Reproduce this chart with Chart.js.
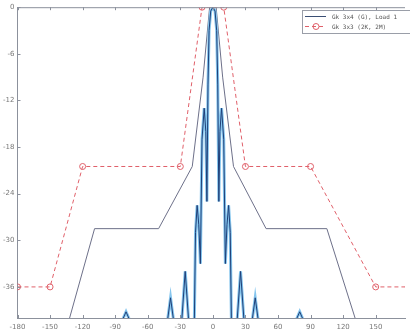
<!DOCTYPE html>
<html>
<head>
<meta charset="utf-8">
<script src="https://cdn.jsdelivr.net/npm/chart.js@4"></script>
<style>
  html, body { margin: 0; padding: 0; background: #fff; }
  #wrap { width: 410px; height: 334px; }
  canvas { filter: blur(0.5px); }
</style>
</head>
<body>
<div id="wrap"><canvas id="chart"></canvas></div>
<script>
// Beam pattern (deg, dB); deep nulls fall below the -40 dB floor
const patternAngles = [-180,
  -83, -82.5, -80, -77.5, -77,
  -42, -41.5, -39, -36.5, -36,
  -29, -28.5, -25.5, -22.5, -22,
  -17.5, -16, -14.5, -13, -11.5, -10, -8, -6.5, -5.5, -4.5, -3.5, -2,
  0,
  2, 3.5, 4.5, 5.5, 6.5, 8, 10, 11.5, 13, 14.5, 16, 17.5,
  22, 22.5, 25.5, 28.5, 29,
  36, 36.5, 39, 41.5, 42,
  77, 77.5, 80, 82.5, 83,
  180];
const patternGain = [-45,
  -45, -40, -39.2, -40, -45,
  -45, -40, -37.4, -40, -45,
  -45, -40, -34, -40, -45,
  -45, -29, -25.5, -28, -33, -17, -13, -16, -25, -10, -3, -0.5,
  0,
  -0.5, -3, -10, -25, -16, -13, -17, -33, -28, -25.5, -29, -45,
  -45, -40, -34, -40, -45,
  -45, -40, -37.4, -40, -45,
  -45, -40, -39.2, -40, -45,
  -45];

// Solid envelope
const maskAngles = [-132, -109, -50, -19, -9, -3, 3, 9, 19, 49, 105, 131];
const maskGain = [-40, -28.5, -28.5, -20.5, -9, 0, 0, -9, -20.5, -28.5, -28.5, -40];

// Dashed mask with circles
const limitAngles = [-180, -150, -120, -30, -10, 10, 30, 90, 150, 180];
const limitGain = [-36, -36, -20.5, -20.5, 0, 0, -20.5, -20.5, -36, -36];

const xTicks = [-180, -150, -120, -90, -60, -30, 0, 30, 60, 90, 120, 150];
const yTicks = [0, -6, -12, -18, -24, -30, -36];

const legendLabels = ['Gk 3x4 (G), Load 1', 'Gk 3x3 (2K, 2M)'];

const toXY = (xs, ys) => xs.map((x, i) => ({ x: x, y: ys[i] }));

// inward ticks, top border and boxed legend
const frame = {
  id: 'frame',
  afterDraw(chart) {
    const ctx = chart.ctx, a = chart.chartArea;
    const xs = chart.scales.x, ys = chart.scales.y;
    ctx.save();
    ctx.strokeStyle = '#8c919c';
    ctx.lineWidth = 1;
    ctx.beginPath();
    ctx.moveTo(a.left, a.top + 0.5);
    ctx.lineTo(a.right, a.top + 0.5);
    xTicks.forEach(v => {
      const px = Math.round(xs.getPixelForValue(v)) + 0.5;
      ctx.moveTo(px, a.bottom); ctx.lineTo(px, a.bottom - 3);
      ctx.moveTo(px, a.top); ctx.lineTo(px, a.top + 3);
    });
    yTicks.forEach(v => {
      const py = Math.round(ys.getPixelForValue(v)) + 0.5;
      ctx.moveTo(a.left, py); ctx.lineTo(a.left + 3, py);
    });
    ctx.stroke();

    // legend box
    const bx = 302, by = 10, bw = 108, bh = 23;
    ctx.fillStyle = '#fff';
    ctx.fillRect(bx, by, bw, bh);
    ctx.strokeStyle = '#9a9ea8';
    ctx.strokeRect(bx + 0.5, by + 0.5, bw, bh);
    ctx.font = '6px "DejaVu Sans Mono"';
    ctx.textBaseline = 'middle';
    ctx.fillStyle = '#555';
    // row 1
    ctx.strokeStyle = '#3b4f74';
    ctx.beginPath(); ctx.moveTo(305, 16.5); ctx.lineTo(326, 16.5); ctx.stroke();
    ctx.fillText(legendLabels[0], 332, 17);
    // row 2
    ctx.strokeStyle = '#e0606a';
    ctx.setLineDash([4, 3]);
    ctx.beginPath(); ctx.moveTo(305, 26.5); ctx.lineTo(326, 26.5); ctx.stroke();
    ctx.setLineDash([]);
    ctx.beginPath(); ctx.arc(316, 26.5, 3, 0, Math.PI * 2); ctx.stroke();
    ctx.fillText(legendLabels[1], 332, 27);
    ctx.restore();
  }
};

new Chart(document.getElementById('chart'), {
  type: 'line',
  data: {
    datasets: [
      {
        data: toXY(maskAngles, maskGain),
        borderColor: '#6d7089',
        borderWidth: 1,
        pointRadius: 0,
        tension: 0,
        order: 4
      },
      {
        data: toXY(patternAngles, patternGain),
        borderColor: '#86c6ee',
        borderWidth: 3,
        pointRadius: 0,
        tension: 0,
        order: 3
      },
      {
        data: toXY(patternAngles, patternGain),
        borderColor: '#1f3f78',
        borderWidth: 1,
        pointRadius: 0,
        tension: 0,
        order: 2
      },
      {
        data: toXY(limitAngles, limitGain),
        borderColor: '#e0606a',
        borderWidth: 1,
        borderDash: [4, 3],
        pointRadius: 3,
        pointStyle: 'circle',
        pointBorderColor: '#e0606a',
        pointBackgroundColor: 'rgba(255,255,255,0)',
        pointBorderWidth: 1,
        tension: 0,
        order: 1
      }
    ]
  },
  options: {
    responsive: true,
    maintainAspectRatio: false,
    animation: false,
    layout: { padding: { top: 5, right: 0, left: 0, bottom: 0 } },
    plugins: { legend: { display: false }, tooltip: { enabled: false } },
    scales: {
      x: {
        type: 'linear',
        min: -180,
        max: 177,
        afterBuildTicks: s => { s.ticks = xTicks.map(v => ({ value: v })); },
        afterFit: s => { s.height = 16; },
        grid: { display: false, drawTicks: false },
        border: { display: true, color: '#8c919c' },
        ticks: { color: '#777', font: { size: 7, family: 'DejaVu Sans' }, padding: 5, maxRotation: 0, autoSkip: false }
      },
      y: {
        min: -40,
        max: 0,
        afterBuildTicks: s => { s.ticks = yTicks.map(v => ({ value: v })); },
        afterFit: s => { s.width = 17.5; },
        grid: { display: false, drawTicks: false },
        border: { display: true, color: '#8c919c' },
        ticks: { color: '#777', font: { size: 7, family: 'DejaVu Sans' }, padding: 3 }
      }
    }
  },
  plugins: [frame]
});
</script>
</body>
</html>
